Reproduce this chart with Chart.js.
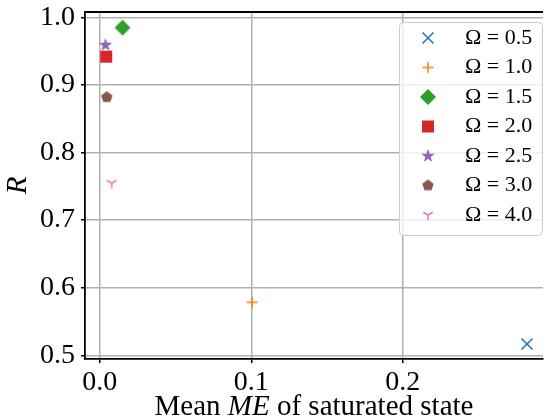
<!DOCTYPE html>
<html>
<head>
<meta charset="utf-8">
<script src="https://cdn.jsdelivr.net/npm/chart.js@4.4.1/dist/chart.umd.min.js"></script>
<style>
html, body { margin: 0; padding: 0; background: #fff; }
#wrap { width: 548px; height: 420px; }
</style>
</head>
<body>
<div id="wrap"><canvas id="chart" width="548" height="420"></canvas></div>
<script>
// data
const omegas = ['0.5', '1.0', '1.5', '2.0', '2.5', '3.0', '4.0'];
const meanME = [0.282, 0.1005, 0.015, 0.0042, 0.0037, 0.0046, 0.0078];
const rValues = [0.5167, 0.5784, 0.9846, 0.9417, 0.959, 0.8817, 0.7547];
const xTicks = [0.0, 0.1, 0.2];
const yTicks = [0.5, 0.6, 0.7, 0.8, 0.9, 1.0];

// matplotlib look
const colors = ['#1f77b4', '#ff7f0e', '#2ca02c', '#d62728', '#9467bd', '#8c564b', '#e377c2'];
const markerKinds = ['x', '+', 'D', 's', '*', 'p', '1'];
const serif = '"Liberation Serif", "Times New Roman", serif';

function makeMarker(kind, color) {
    const c = document.createElement('canvas');
    c.width = 22; c.height = 22;
    const g = c.getContext('2d');
    g.translate(11, 11);
    g.strokeStyle = color;
    g.fillStyle = color;
    g.lineWidth = 1.5;
    g.beginPath();
    if (kind === 'x') {
        const r = 5.5;
        g.moveTo(-r, -r); g.lineTo(r, r);
        g.moveTo(-r, r); g.lineTo(r, -r);
        g.stroke();
    } else if (kind === '+') {
        const r = 5.5;
        g.moveTo(-r, 0); g.lineTo(r, 0);
        g.moveTo(0, -r); g.lineTo(0, r);
        g.stroke();
    } else if (kind === 'D') {
        const r = 8;
        g.moveTo(0, -r); g.lineTo(r, 0); g.lineTo(0, r); g.lineTo(-r, 0);
        g.closePath(); g.fill();
    } else if (kind === 's') {
        g.fillRect(-6, -6, 12, 12);
    } else if (kind === '*') {
        for (let k = 0; k < 10; k++) {
            const a = -Math.PI / 2 + k * Math.PI / 5;
            const r = k % 2 === 0 ? 7 : 2.9;
            g.lineTo(r * Math.cos(a), r * Math.sin(a));
        }
        g.closePath(); g.fill();
    } else if (kind === 'p') {
        for (let k = 0; k < 5; k++) {
            const a = -Math.PI / 2 + k * 2 * Math.PI / 5;
            g.lineTo(6 * Math.cos(a), 6 * Math.sin(a));
        }
        g.closePath(); g.fill();
    } else if (kind === '1') {
        const r = 5.5;
        g.moveTo(0, 0); g.lineTo(0, r);
        g.moveTo(0, 0); g.lineTo(-r * 0.866, -r * 0.5);
        g.moveTo(0, 0); g.lineTo(r * 0.866, -r * 0.5);
        g.stroke();
    }
    return c;
}

const datasets = omegas.map((om, i) => ({
    label: 'Ω = ' + om,
    data: [{ x: meanME[i], y: rValues[i] }],
    pointStyle: makeMarker(markerKinds[i], colors[i]),
    borderColor: colors[i],
    backgroundColor: colors[i]
}));

// top spine, x label with italic ME, legend box
const extras = {
    id: 'extras',
    afterDraw(chart) {
        const ctx = chart.ctx;
        const a = chart.chartArea;
        ctx.save();
        ctx.strokeStyle = '#000';
        ctx.lineWidth = 1.8;
        ctx.beginPath();
        ctx.moveTo(a.left - 0.9, a.top);
        ctx.lineTo(a.right, a.top);
        ctx.stroke();

        // x axis label, pieces so ME can be italic
        const parts = [['Mean ', ''], ['ME', 'italic '], [' of saturated state', '']];
        ctx.fillStyle = '#000';
        ctx.textBaseline = 'alphabetic';
        ctx.textAlign = 'left';
        let total = 0;
        parts.forEach(p => { ctx.font = p[1] + '29px ' + serif; total += ctx.measureText(p[0]).width; });
        let x = (a.left + a.right) / 2 - total / 2;
        parts.forEach(p => {
            ctx.font = p[1] + '29px ' + serif;
            ctx.fillText(p[0], x, 415);
            x += ctx.measureText(p[0]).width;
        });

        ctx.beginPath();
        ctx.roundRect(399.5, 22.5, 143, 213, 4);
        ctx.fillStyle = 'rgba(255,255,255,0.8)';
        ctx.fill();
        ctx.strokeStyle = '#cccccc';
        ctx.lineWidth = 1;
        ctx.stroke();

        ctx.font = '22px ' + serif;
        ctx.textBaseline = 'middle';
        chart.data.datasets.forEach((ds, i) => {
            const y = 38 + i * 29.5;
            ctx.drawImage(ds.pointStyle, 428 - 11, y - 11);
            ctx.fillStyle = '#000';
            ctx.fillText(ds.label, 465, y);
        });
        ctx.restore();
    }
};

new Chart(document.getElementById('chart'), {
    type: 'scatter',
    data: { datasets: datasets },
    options: {
        responsive: false,
        animation: false,
        layout: { padding: { top: 12, right: 0, left: 0, bottom: 0 } },
        plugins: { legend: { display: false }, tooltip: { enabled: false } },
        scales: {
            x: {
                type: 'linear',
                min: -0.0098,
                max: 0.2926,
                afterBuildTicks: s => { s.ticks = xTicks.map(v => ({ value: v })); },
                afterFit: s => { s.height = 61; s.paddingLeft = 0; s.paddingRight = 0; },
                ticks: {
                    color: '#000',
                    padding: 3,
                    maxRotation: 0,
                    font: { family: serif, size: 28 },
                    callback: v => v.toFixed(1)
                },
                grid: { color: '#b0b0b0', lineWidth: 1.5, tickColor: '#000', tickLength: 4 },
                border: { color: '#000', width: 1.8 }
            },
            y: {
                min: 0.4945,
                max: 1.0078,
                afterBuildTicks: s => { s.ticks = yTicks.map(v => ({ value: v })); },
                afterFit: s => { s.width = 85; s.paddingTop = 0; s.paddingBottom = 0; },
                ticks: {
                    color: '#000',
                    padding: 6,
                    font: { family: serif, size: 28 },
                    callback: v => v.toFixed(1)
                },
                grid: { color: '#b0b0b0', lineWidth: 1.5, tickColor: '#000', tickLength: 4 },
                border: { color: '#000', width: 1.8 },
                title: {
                    display: true,
                    text: 'R',
                    color: '#000',
                    font: { family: serif, size: 29, style: 'italic', lineHeight: 1.0 },
                    padding: { top: 4, bottom: 0 }
                }
            }
        }
    },
    plugins: [extras]
});
</script>
</body>
</html>
